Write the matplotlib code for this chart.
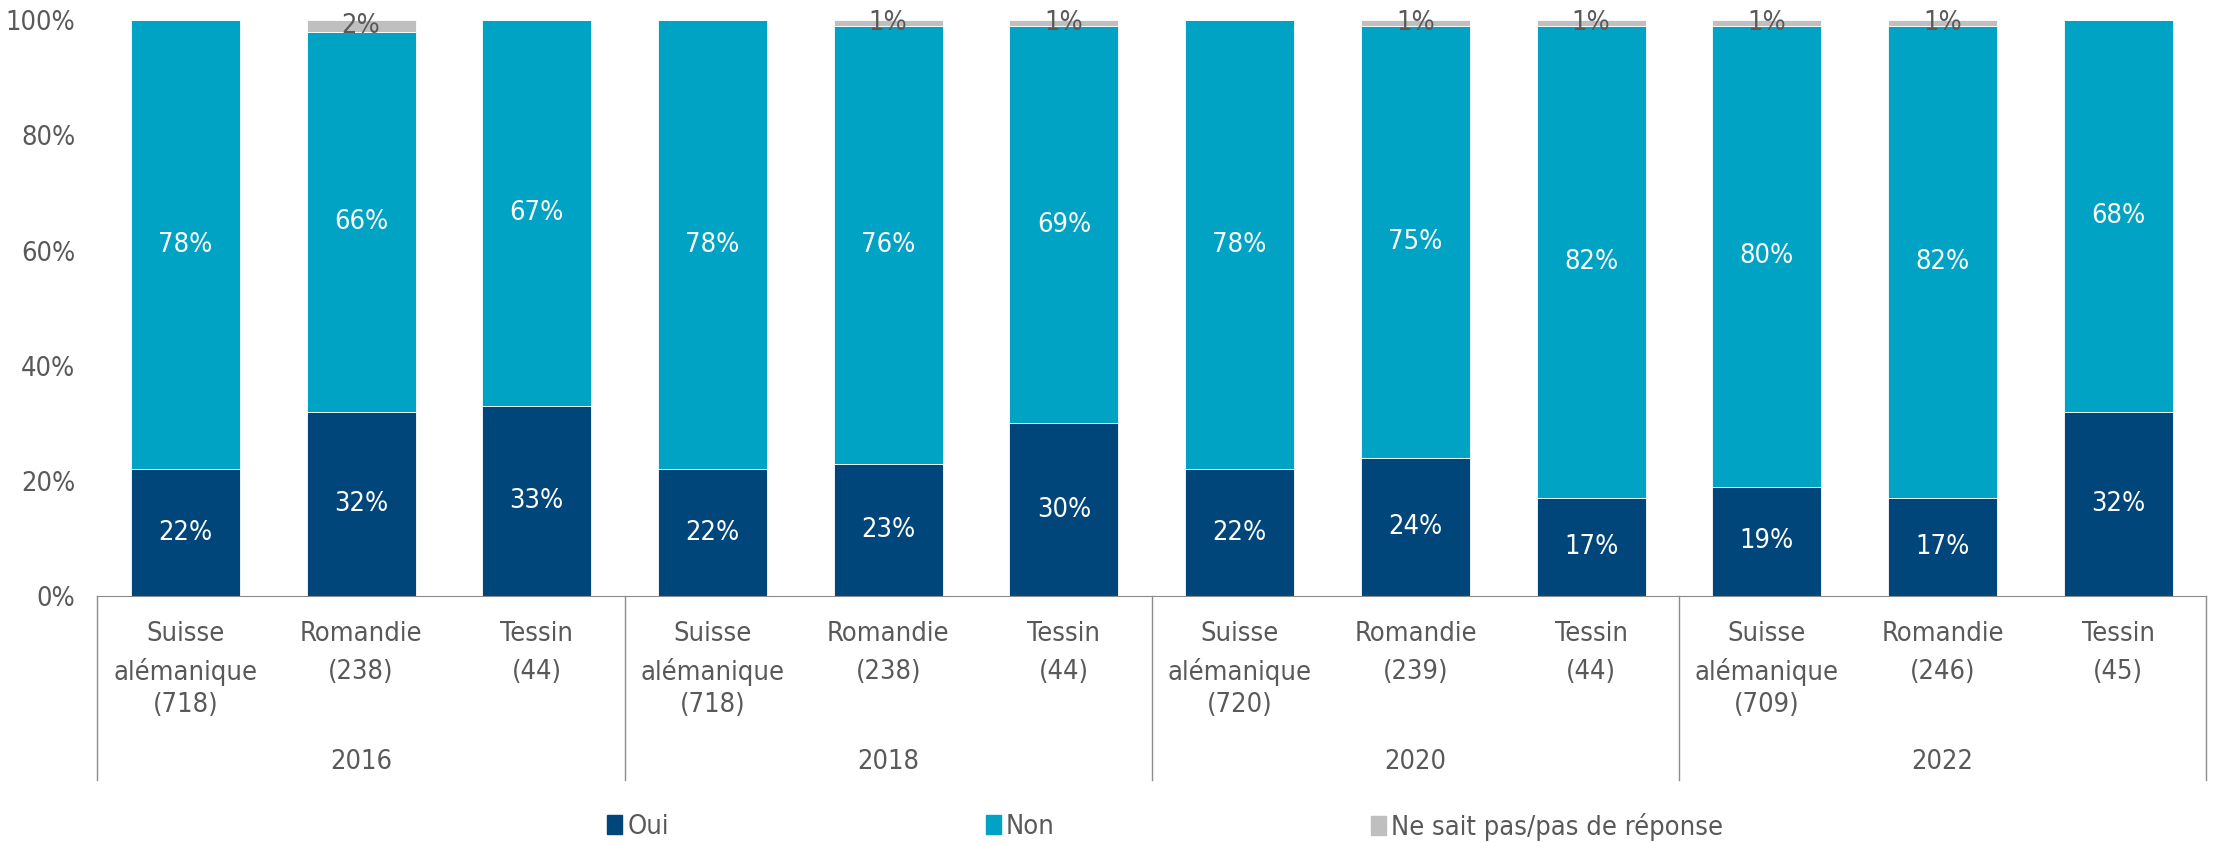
import numpy as np
import matplotlib
matplotlib.use('Agg')
import matplotlib.pyplot as plt
import matplotlib.font_manager as fm
from matplotlib.patches import Patch

# police étroite si disponible
narrow = [f for f in fm.fontManager.ttflist
          if (f.name == 'DejaVu Sans' and f.stretch == 'condensed') or f.name == 'Liberation Sans Narrow']
if any(f.name == 'DejaVu Sans' for f in narrow):
    plt.rcParams['font.family'] = ['DejaVu Sans']
    plt.rcParams['font.stretch'] = 'condensed'
    fsize = 19.5
elif narrow:
    plt.rcParams['font.family'] = ['Liberation Sans Narrow', 'DejaVu Sans']
    fsize = 21
else:
    plt.rcParams['font.family'] = ['DejaVu Sans']
    fsize = 18
plt.rcParams['font.size'] = fsize

# ── données ──
years = ['2016', '2018', '2020', '2022']
regions = ['Suisse\nalémanique', 'Romandie', 'Tessin']
sizes = [718, 238, 44, 718, 238, 44, 720, 239, 44, 709, 246, 45]
oui = [22, 32, 33, 22, 23, 30, 22, 24, 17, 19, 17, 32]
non = [78, 66, 67, 78, 76, 69, 78, 75, 82, 80, 82, 68]
nsp = [0, 2, 0, 0, 1, 1, 0, 1, 1, 1, 1, 0]
series_names = ['Oui', 'Non', 'Ne sait pas/pas de réponse']

c_oui, c_non, c_nsp = '#00467A', '#00A3C4', '#BFBFBF'
txt = '#595959'

labels = [f'{regions[i % 3]}\n({n})' for i, n in enumerate(sizes)]
x = np.arange(len(labels))
oui, non, nsp = np.array(oui), np.array(non), np.array(nsp)

fig = plt.figure(figsize=(22.15, 8.43), dpi=100)
ax = fig.add_axes([0.044, 0.293, 0.952, 0.683])

w = 0.62
ax.bar(x, oui, w, color=c_oui, edgecolor='white', linewidth=0.6)
ax.bar(x, non, w, bottom=oui, color=c_non, edgecolor='white', linewidth=0.6)
ax.bar(x, nsp, w, bottom=oui + non, color=c_nsp, edgecolor='white', linewidth=0.6)

# étiquettes de valeurs
for i in x:
    ax.text(i, oui[i] / 2, f'{oui[i]}%', ha='center', va='center', color='white')
    ax.text(i, oui[i] + non[i] / 2, f'{non[i]}%', ha='center', va='center', color='white')
    if nsp[i] > 0:
        ax.text(i, oui[i] + non[i] + nsp[i] / 2, f'{nsp[i]}%', ha='center', va='center', color=txt)

ax.set_xlim(-0.5, len(x) - 0.5)
ax.set_ylim(0, 100)
ax.set_yticks(np.arange(0, 101, 20))
ax.set_yticklabels([f'{v}%' for v in range(0, 101, 20)], color=txt)
ax.tick_params(axis='y', length=0, pad=16)
ax.set_xticks([])
for s in ['top', 'right', 'left']:
    ax.spines[s].set_visible(False)
ax.spines['bottom'].set_color('#8c8c8c')

# axe catégoriel à deux niveaux
tr = ax.get_xaxis_transform()
line_y = [-0.066, -0.132, -0.189]
for i, lbl in enumerate(labels):
    for k, part in enumerate(lbl.split('\n')):
        ax.text(i, line_y[k], part, transform=tr, ha='center', va='center', color=txt)
for g, yr in enumerate(years):
    ax.text(3 * g + 1, -0.288, yr, transform=tr, ha='center', va='center', color=txt)
for xb in np.arange(-0.5, len(x), 3):
    ax.plot([xb, xb], [0, -0.319], transform=tr, color='#8c8c8c', lw=1.0, clip_on=False)

# légende
for xl, name, col in zip([0.274, 0.445, 0.619], series_names, [c_oui, c_non, c_nsp]):
    leg = fig.legend(handles=[Patch(color=col)], labels=[name], loc='center left',
                     bbox_to_anchor=(xl, 0.019), frameon=False, borderpad=0,
                     borderaxespad=0, handlelength=0.55, handleheight=0.7, handletextpad=0.2)
    for t in leg.get_texts():
        t.set_color(txt)

plt.savefig('out.png', dpi=100, facecolor='white')
